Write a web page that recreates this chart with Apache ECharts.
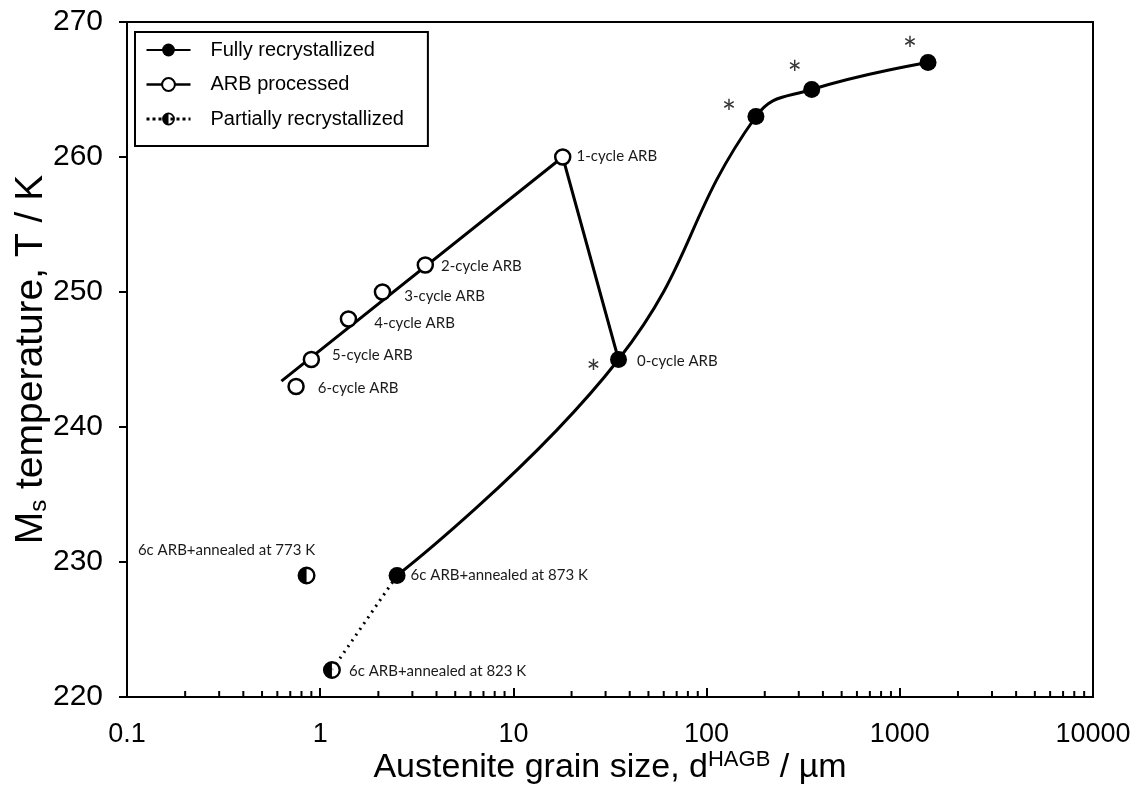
<!DOCTYPE html>
<html>
<head>
<meta charset="utf-8">
<script src="https://cdn.jsdelivr.net/npm/echarts@6/dist/echarts.min.js"></script>
<style>
  html, body { margin: 0; padding: 0; background: #fff; }
  #chart { width: 1135px; height: 785px; }
</style>
</head>
<body>
<div id="chart"></div>
<script>
// Ms temperature vs. austenite grain size (log scale)

// Fully recrystallized specimens
const fullX = [2.5, 35, 180, 350, 1400];
const fullY = [229, 245, 263, 265, 267];
const fullNames = ['6c ARB+annealed at 873 K', '0-cycle ARB', '', '', ''];
const fullStarred = [false, true, true, true, true];

// ARB processed specimens
const arbX = [18, 3.5, 2.1, 1.4, 0.9, 0.75];
const arbY = [260, 252, 250, 248, 245, 243];
const arbNames = ['1-cycle ARB', '2-cycle ARB', '3-cycle ARB', '4-cycle ARB', '5-cycle ARB', '6-cycle ARB'];

// Trend through the ARB series, then back to the 0-cycle state
const arbTrendX = [0.63, 18, 35];
const arbTrendY = [243.4, 260, 245];

// Partially recrystallized specimens
const partialX = [0.85, 1.15];
const partialY = [229, 222];
const partialNames = ['6c ARB+annealed at 773 K', '6c ARB+annealed at 823 K'];

// Axis ticks
const xMajorTicks = [0.1, 1, 10, 100, 1000, 10000];
const yTicks = [220, 230, 240, 250, 260, 270];

const LABEL_FONT = 'Lato, "Noto Sans", sans-serif';
const AXIS_FONT = '"Liberation Sans", Arial, sans-serif';

// Left half filled, ring outline
const halfSymbol = 'path://M10,0A10,10,0,1,1,10,20A10,10,0,1,1,10,0Z' +
  'M10,2.7A7.3,7.3,0,1,0,10,17.3A7.3,7.3,0,1,0,10,2.7Z' +
  'M10,2.7A7.3,7.3,0,0,0,10,17.3Z';

const pair = (xs, ys) => xs.map((x, i) => [x, ys[i]]);

// label placement per point
const arbLabelOffset = [[0, -1], [2, 1], [8, 4], [12, 4], [7, -4], [8, 2]];
const fullLabelOffset = [[0, 0], [5, 2]];
const starOffset = [null, [-25, 15], [-27, -2], [-17, -14], [-18, -11]];

// log-scale minor ticks (2..9 within each decade)
const xMinorTicks = [];
for (let d = 0; d < xMajorTicks.length - 1; d++) {
  for (let k = 2; k <= 9; k++) xMinorTicks.push(Number((xMajorTicks[d] * k).toPrecision(6)));
}

const chart = echarts.init(document.getElementById('chart'), null, { renderer: 'canvas' });

const option = {
  backgroundColor: '#ffffff',
  animation: false,
  grid: {
    left: 127, right: 42, top: 22, bottom: 88,
    outerBoundsMode: 'none',
    containLabel: false,
    show: true, borderColor: '#000', borderWidth: 2, backgroundColor: 'transparent'
  },
  legend: {
    orient: 'vertical',
    left: 135, top: 32,
    padding: [8, 24, 17, 10],
    itemGap: 14.5,
    itemWidth: 44,
    itemHeight: 16,
    borderColor: '#000',
    borderWidth: 2,
    backgroundColor: '#fff',
    textStyle: { fontFamily: AXIS_FONT, fontSize: 20, color: '#000', padding: [0, 0, 0, 15] },
    data: [
      { name: 'Fully recrystallized' },
      { name: 'ARB processed', lineStyle: { color: '#000', width: 2.5, opacity: 1, type: 'solid' } },
      { name: 'Partially recrystallized', lineStyle: { color: '#000', width: 3, opacity: 1, type: 'dotted' } }
    ]
  },
  xAxis: {
    type: 'log',
    logBase: 10,
    min: 0.1,
    max: 10000,
    name: 'Austenite grain size, d{sup|HAGB} / µm',
    nameLocation: 'middle',
    nameGap: 52,
    nameMoveOverlap: false,
    nameTextStyle: {
      fontFamily: AXIS_FONT, fontSize: 34, color: '#000',
      rich: { sup: { fontFamily: AXIS_FONT, fontSize: 22, color: '#000', verticalAlign: 'top', padding: [0, 0, 15, 0] } }
    },
    axisLine: { show: true, lineStyle: { color: '#000', width: 2 } },
    axisTick: { show: true, inside: true, length: 9, lineStyle: { color: '#000', width: 2 } },
    axisLabel: {
      fontFamily: AXIS_FONT, fontSize: 27, color: '#000', margin: 24,
      formatter: v => String(Number(v.toPrecision(6)))
    },
    splitLine: { show: false }
  },
  yAxis: {
    type: 'value',
    min: yTicks[0],
    max: yTicks[yTicks.length - 1],
    interval: 10,
    name: 'M{sub|s} temperature, T / K',
    nameLocation: 'middle',
    nameGap: 76,
    nameMoveOverlap: false,
    nameTextStyle: {
      fontFamily: AXIS_FONT, fontSize: 39, color: '#000',
      rich: { sub: { fontFamily: AXIS_FONT, fontSize: 24, color: '#000', verticalAlign: 'bottom', padding: [12, 0, 0, 0] } }
    },
    axisLine: { show: true, lineStyle: { color: '#000', width: 2 } },
    axisTick: { show: true, inside: false, length: 8, lineStyle: { color: '#000', width: 2 } },
    axisLabel: { fontFamily: AXIS_FONT, fontSize: 30, color: '#000', margin: 24 },
    splitLine: { show: false }
  },
  series: [
    {
      // minor ticks on the logarithmic axis
      type: 'custom',
      name: 'minor-ticks',
      silent: true,
      clip: false,
      z: 1,
      data: xMinorTicks.map(v => [v, yTicks[0]]),
      renderItem: (params, api) => {
        const p = api.coord([api.value(0), api.value(1)]);
        return {
          type: 'line',
          shape: { x1: p[0], y1: p[1], x2: p[0], y2: p[1] - 6 },
          style: { stroke: '#000', lineWidth: 2 }
        };
      }
    },
    {
      // ARB trend line
      type: 'line',
      name: 'arb-trend',
      data: pair(arbTrendX, arbTrendY),
      showSymbol: false,
      symbol: 'none',
      lineStyle: { color: '#000', width: 3 },
      z: 2,
      silent: true
    },
    {
      // dotted link between the 823 K and 873 K anneals
      type: 'line',
      name: 'anneal-link',
      data: [[partialX[1], partialY[1]], [fullX[0], fullY[0]]],
      symbol: 'none',
      lineStyle: { color: '#000', width: 3, type: [2, 5] },
      z: 2,
      silent: true
    },
    {
      type: 'line',
      name: 'Fully recrystallized',
      data: fullX.map((x, i) => ({
        value: [x, fullY[i]],
        label: fullNames[i] ? { show: true, formatter: fullNames[i], offset: fullLabelOffset[i] } : { show: false }
      })),
      smooth: 0.45,
      symbol: 'circle',
      symbolSize: 17,
      itemStyle: { color: '#000' },
      lineStyle: { color: '#000', width: 3 },
      label: { position: 'right', distance: 5, fontFamily: LABEL_FONT, fontSize: 15, color: '#1a1a1a' },
      z: 4
    },
    {
      type: 'line',
      name: 'ARB processed',
      data: arbX.map((x, i) => ({
        value: [x, arbY[i]],
        label: { offset: arbLabelOffset[i] }
      })),
      symbol: 'circle',
      symbolSize: 15,
      itemStyle: { color: '#fff', borderColor: '#000', borderWidth: 2.5 },
      lineStyle: { opacity: 0, width: 0 },
      label: {
        show: true, position: 'right', distance: 5,
        formatter: p => arbNames[p.dataIndex],
        fontFamily: LABEL_FONT, fontSize: 15, color: '#1a1a1a'
      },
      z: 4
    },
    {
      // white backing behind the half-filled markers
      type: 'scatter',
      name: 'partial-backing',
      data: pair(partialX, partialY),
      symbol: 'circle',
      symbolSize: 17,
      itemStyle: { color: '#fff' },
      silent: true,
      z: 3
    },
    {
      type: 'line',
      name: 'Partially recrystallized',
      data: partialX.map((x, i) => ({
        value: [x, partialY[i]],
        label: i === 0
          ? { position: 'top', offset: [-80, -4] }
          : { position: 'right', offset: [3, 1] }
      })),
      symbol: halfSymbol,
      symbolSize: 18,
      itemStyle: { color: '#000' },
      lineStyle: { opacity: 0, width: 0 },
      label: {
        show: true, distance: 5,
        formatter: p => partialNames[p.dataIndex],
        fontFamily: LABEL_FONT, fontSize: 15, color: '#1a1a1a'
      },
      z: 4
    },
    {
      // asterisks marking selected fully recrystallized states
      type: 'scatter',
      name: 'stars',
      data: fullX.map((x, i) => ({ value: [x, fullY[i]], label: { offset: starOffset[i] || [0, 0] } }))
        .filter((d, i) => fullStarred[i]),
      symbol: 'circle',
      symbolSize: 1,
      itemStyle: { color: 'rgba(0,0,0,0)' },
      label: {
        show: true, position: 'inside', formatter: '*',
        fontFamily: LABEL_FONT, fontSize: 34, color: '#000'
      },
      silent: true,
      z: 5
    }
  ]
};

chart.setOption(option);
</script>
</body>
</html>
